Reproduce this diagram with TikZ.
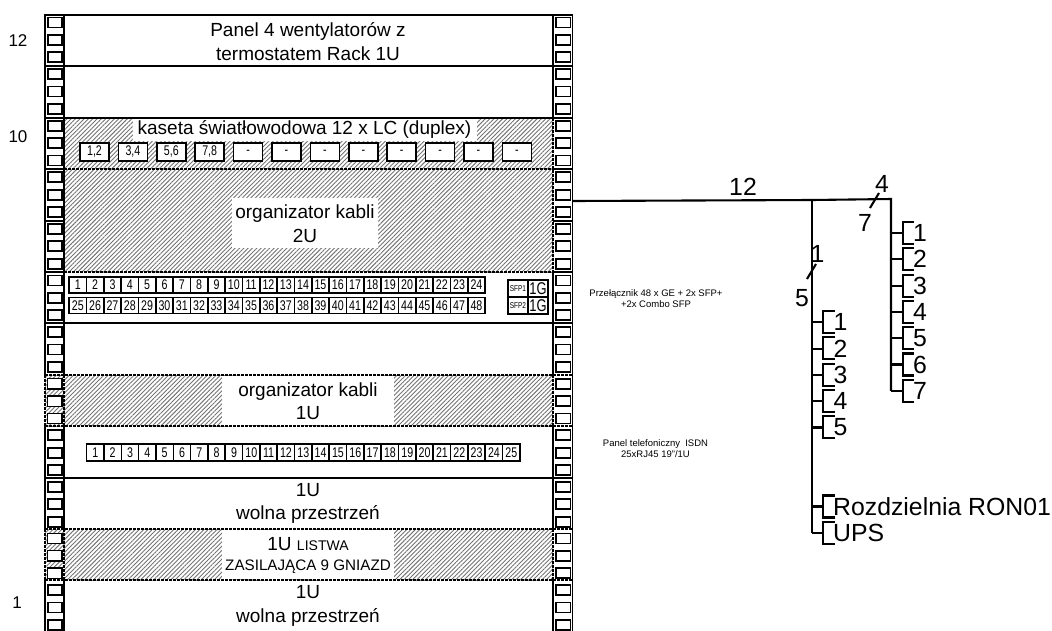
\documentclass[tikz,border=0pt]{standalone}
\usepackage{fontspec}
\setmainfont{Liberation Sans}
\newfontfamily\narrowfont[FakeStretch=0.76]{Liberation Sans}
\usetikzlibrary{patterns.meta}
\tikzset{
  rackline/.style={line width=1.9pt},
  dashline/.style={line width=1.4pt, dash pattern=on 2.5pt off 1.5pt},
  hatchfill/.style={pattern={Lines[angle=45,distance=3.05pt,line width=0.9pt]},pattern color=black!55},
  holebox/.style={draw, fill=white, line width=1.7pt, minimum width=14.2pt, minimum height=10pt, inner sep=0pt},
  holethin/.style={holebox, line width=1.1pt},
  portbox/.style={draw, fill=white, line width=1.6pt, inner sep=0pt, font=\narrowfont\fontsize{14}{15}\selectfont},
  rowtext/.style={align=center, font=\fontsize{19}{23.5}\selectfont},
  tinytext/.style={align=center, font=\fontsize{9.5}{11}\selectfont},
  treetext/.style={anchor=west, inner sep=0pt, font=\fontsize{24.8}{26}\selectfont},
  counttext/.style={inner sep=0pt, font=\fontsize{24.8}{26}\selectfont},
  cable/.style={line width=2.1pt},
  sidetext/.style={font=\fontsize{17}{19}\selectfont}
}
\begin{document}
\begin{tikzpicture}[x=1pt,y=-1pt]
    \useasboundingbox (0,0) rectangle (1052,630);
    % hatched rows
    \fill[hatchfill] (64,118) rectangle (553,272);
    \fill[hatchfill] (45,375) rectangle (553,426);
    \fill[hatchfill] (45,529) rectangle (553,580);
    % white patches under the texts
    \fill[white] (133,118) rectangle (477,141);
    \fill[white] (232,198) rectangle (378,248);
    \fill[white] (222,376) rectangle (394,425);
    \fill[white] (222,530) rectangle (394,579);
    % rails
    \draw[rackline] (45,631) -- (45,580) (45,529) -- (45,426) (45,375) -- (45,15) -- (572.5,15) -- (572.5,631);
    \draw[dashline] (45,375) -- (45,426) (45,529) -- (45,580);
    \draw[rackline] (64,15) -- (64,375) (64,426) -- (64,529) (64,580) -- (64,631);
    \draw[dashline] (64,375) -- (64,426) (64,529) -- (64,580);
    \draw[rackline] (553,15) -- (553,118) (553,272) -- (553,375) (553,426) -- (553,529) (553,580) -- (553,631);
    \draw[dashline] (553,118) -- (553,272) (553,375) -- (553,426) (553,529) -- (553,580);
    % row lines
    \draw[rackline] (45,66) -- (572,66);
    \draw[rackline] (45,118) -- (572,118);
    \draw[dashline] (64,169) -- (553,169);
    \draw[dashline] (64,272) -- (553,272);
    \draw[rackline] (45,323) -- (572,323);
    \draw[dashline] (45,375) -- (572,375);
    \draw[dashline] (45,426) -- (572,426);
    \draw[rackline] (45,478) -- (572,478);
    \draw[dashline] (45,529) -- (572,529);
    \draw[dashline] (45,580) -- (572,580);
    \draw[rackline] (45,169) -- (64,169) (553,169) -- (572,169);
    \draw[rackline] (45,272) -- (64,272) (553,272) -- (572,272);
    \draw[rackline] (45,221) -- (64,221) (553,221) -- (572,221);
    % holes in the rails
    \foreach \u in {0,...,11} {
      \foreach \h in {0,1,2} {
        \node[holebox] (holeL\u\h) at (54.8,{22.5+\u*51.6+\h*17.4}) {};
        \node[holebox] (holeR\u\h) at (563.3,{22.5+\u*51.6+\h*17.4}) {};
      }
    }
    \foreach \u in {7,10} {
      \foreach \h in {0,1,2} {
        \node[holethin] (holeT\u\h) at (54.8,{22.5+\u*51.6+\h*17.4}) {};
      }
    }
    % unit numbers
    \node[sidetext] (unit12) at (18,41) {12};
    \node[sidetext] (unit10) at (18,137) {10};
    \node[sidetext] (unit1) at (17,603) {1};
    % row texts
    \node[rowtext] (fanpanel) at (308,41.5) {Panel 4 wentylatorów z\\termostatem Rack 1U};
    \node[rowtext] (cassette) at (304.5,129) {kaseta światłowodowa 12 x LC (duplex)};
    \node[rowtext] (organizer2u) at (305,223.5) {organizator kabli\\2U};
    \node[rowtext] (organizer1u) at (308,401) {organizator kabli\\1U};
    \node[rowtext] (free8) at (308,503.5) {1U\\wolna przestrzeń};
    \node[rowtext] (powerstrip) at (308,555) {1U {\fontsize{14}{21}\selectfont LISTWA}\\[-3.5pt]{\fontsize{15.2}{21}\selectfont ZASILAJĄCA 9 GNIAZD}};
    \node[rowtext] (free10) at (308,606) {1U\\wolna przestrzeń};
    \node[tinytext] (switchtext) at (656,299) {Przełącznik 48 x GE + 2x SFP+\\+2x Combo SFP};
    \node[tinytext] (phonetext) at (655.5,449) {Panel telefoniczny\ \ ISDN\\25xRJ45 19"/1U};
    % cassette ports
    \foreach \t [count=\i from 0] in {{1,2},{3,4},{5,6},{7,8},-,-,-,-,-,-,-,-} {
      \node[portbox, minimum width=29pt, minimum height=17.5pt] (cass\i) at ({94.5+\i*38.4},152) {\t};
    }
    % switch ports
    \foreach \i in {1,...,24} {
      \node[portbox, minimum width=17.3pt, minimum height=16pt] (swa\i) at ({60.5+\i*17.33},285) {\i};
      \pgfmathtruncatemacro{\lower}{\i+24}
      \node[portbox, minimum width=17.3pt, minimum height=16pt] (swb\i) at ({60.5+\i*17.33},305.5) {\lower};
    }
    \node[portbox, minimum width=19.5pt, minimum height=17pt, font=\narrowfont\fontsize{8.5}{9}\selectfont] (sfpa) at (518,288.5) {SFP1};
    \node[portbox, minimum width=20pt, minimum height=17pt, font=\narrowfont\fontsize{17}{18}\selectfont] (ga) at (538,288.5) {1G};
    \node[portbox, minimum width=19.5pt, minimum height=17pt, font=\narrowfont\fontsize{8.5}{9}\selectfont] (sfpb) at (518,305.5) {SFP2};
    \node[portbox, minimum width=20pt, minimum height=17pt, font=\narrowfont\fontsize{17}{18}\selectfont] (gb) at (538,305.5) {1G};
    % phone ports
    \foreach \i in {1,...,25} {
      \node[portbox, minimum width=17.3pt, minimum height=17pt] (tel\i) at ({78+\i*17.33},452.5) {\i};
    }
    % cable tree
    \coordinate (start) at (572,201);
    \coordinate (branch) at (812,200);
    \coordinate (corner) at (891,199);
    \coordinate (trunkend) at (812,532.7);
    \coordinate (rightend) at (891,390.8);
    \draw[cable] (start) -- (branch) -- (corner) -- (rightend);
    \draw[cable] (branch) -- (trunkend);
    \draw[cable] (870,208) -- (879,193);
    \draw[cable] (807,279) -- (816,264);
    \node[counttext] (n12) at (743,187) {12};
    \node[counttext] (n4) at (882,184) {4};
    \node[counttext] (n7) at (865,223) {7};
    \node[counttext] (n1) at (817.5,254) {1};
    \node[counttext] (n5) at (802,298) {5};
    % right group
    \foreach \i in {1,...,7} {
      \coordinate (rb\i) at (903,{233+(\i-1)*26.3});
      \draw[cable] (891,{233+(\i-1)*26.3}) -- (rb\i);
      \draw[cable] (914,{222+(\i-1)*26.3}) -- (903,{222+(\i-1)*26.3}) -- (903,{244+(\i-1)*26.3}) -- (914,{244+(\i-1)*26.3});
      \node[treetext] (rl\i) at (913,{233+(\i-1)*26.3}) {\i};
    }
    % left group
    \foreach \i in {1,...,5} {
      \coordinate (lb\i) at (823,{322.3+(\i-1)*26.3});
      \draw[cable] (812,{322.3+(\i-1)*26.3}) -- (lb\i);
      \draw[cable] (834.5,{311+(\i-1)*26.3}) -- (823,{311+(\i-1)*26.3}) -- (823,{333+(\i-1)*26.3}) -- (834.5,{333+(\i-1)*26.3});
      \node[treetext] (ll\i) at (833.5,{322.3+(\i-1)*26.3}) {\i};
    }
    \foreach \y/\t/\n in {506.5/Rozdzielnia RON01/ron,532.7/UPS/ups} {
      \draw[cable] (812,\y) -- (823,\y);
      \draw[cable] (834.5,{\y-11}) -- (823,{\y-11}) -- (823,{\y+11}) -- (834.5,{\y+11});
      \node[treetext] (\n) at (833,\y) {\t};
    }
\end{tikzpicture}
\end{document}
